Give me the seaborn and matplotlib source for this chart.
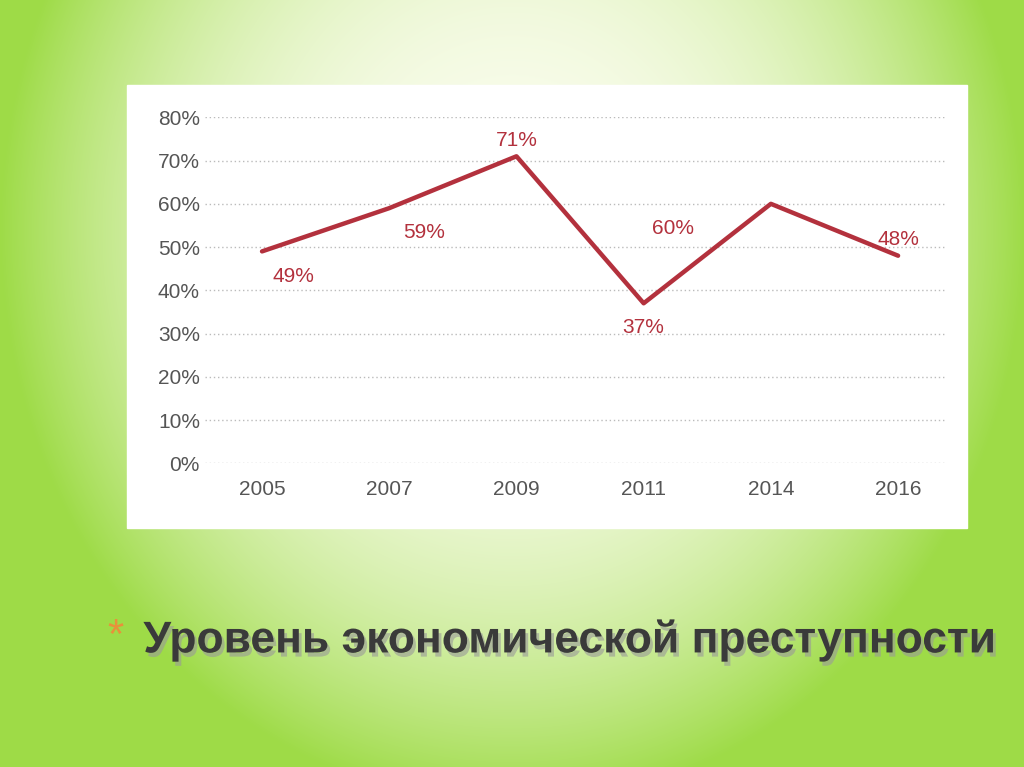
import matplotlib

matplotlib.use("Agg")

import matplotlib.pyplot as plt
import numpy as np
import pandas as pd
import seaborn as sns
from matplotlib.patches import Rectangle
import matplotlib.patheffects as pe

years = ["2005", "2007", "2009", "2011", "2014", "2016"]
rates = [49, 59, 71, 37, 60, 48]
# label placement relative to each point: (x shift in categories, y shift in %)
label_shift = [(0.25, -3.5), (0.27, -3.5), (0.0, 1.5), (0.0, -3.5), (-0.77, -3.5), (0.0, 1.5)]
y_ticks = [0, 10, 20, 30, 40, 50, 60, 70, 80]
title = "Уровень экономической преступности"

LINE_COLOR = "#b3313d"


def draw_background(fig):
    bg = fig.add_axes([0, 0, 1, 1])
    h, w = 767, 1024
    yy, xx = np.mgrid[0:h, 0:w]
    dx = (xx - w / 2) / (w / 2)
    dy = (yy - h * 0.3) / (h * 0.75)
    r = np.clip(np.sqrt(dx ** 2 + dy ** 2), 0, 1)
    light = np.array([0.98, 0.99, 0.93])
    green = np.array([0.62, 0.86, 0.28])
    t = r[..., None] ** 2.4
    img = light[None, None, :] * (1 - t) + green[None, None, :] * t
    bg.imshow(img, extent=[0, 1, 0, 1], aspect="auto")
    bg.set_axis_off()
    bg.add_patch(Rectangle((127 / w, 1 - 528 / h), 840 / w, 443 / h, color="white", transform=bg.transAxes))


def main() -> None:
    sns.set_theme(style="white")
    plt.rcParams["font.family"] = ["Liberation Sans", "DejaVu Sans"]
    fig = plt.figure(figsize=(10.24, 7.67), dpi=100)
    draw_background(fig)

    ax = fig.add_axes([0.2, 0.396, 0.723, 0.451])
    ax.patch.set_alpha(0)
    df = pd.DataFrame({"year": years, "rate": rates})
    df["pos"] = range(len(years))
    sns.lineplot(data=df, x="pos", y="rate", ax=ax, color=LINE_COLOR, linewidth=3.2)

    for x, y, (sx, sy) in zip(df["pos"], df["rate"], label_shift):
        va = "bottom" if sy > 0 else "top"
        ax.text(x + sx, y + sy, f"{y}%", color=LINE_COLOR, fontsize=15, ha="center", va=va)

    ax.set_xlim(-0.45, 5.37)
    ax.set_ylim(0, 80)
    ax.set_xticks(df["pos"])
    ax.set_xticklabels(years)
    ax.set_yticks(y_ticks)
    ax.set_yticklabels([f"{t}%" for t in y_ticks])
    ax.tick_params(axis="both", labelsize=15, colors="#555555", length=0)
    ax.tick_params(axis="x", pad=12)
    ax.set_xlabel("")
    ax.set_ylabel("")
    ax.yaxis.grid(True, linestyle=(0, (1, 2)), color="#bbbbbb", linewidth=1)
    for s in ax.spines.values():
        s.set_visible(False)

    fig.text(0.105, 0.17, "*", fontsize=30, color="#e8923a", ha="left", va="center")
    fig.text(0.14, 0.165, title, fontsize=32, fontweight="bold", color="#3a3a3a",
             ha="left", va="center",
             path_effects=[pe.withSimplePatchShadow(offset=(2, -3), shadow_rgbFace="#999999", alpha=0.6)])

    fig.savefig("out.png", dpi=100)
    plt.close(fig)


if __name__ == "__main__":
    main()
